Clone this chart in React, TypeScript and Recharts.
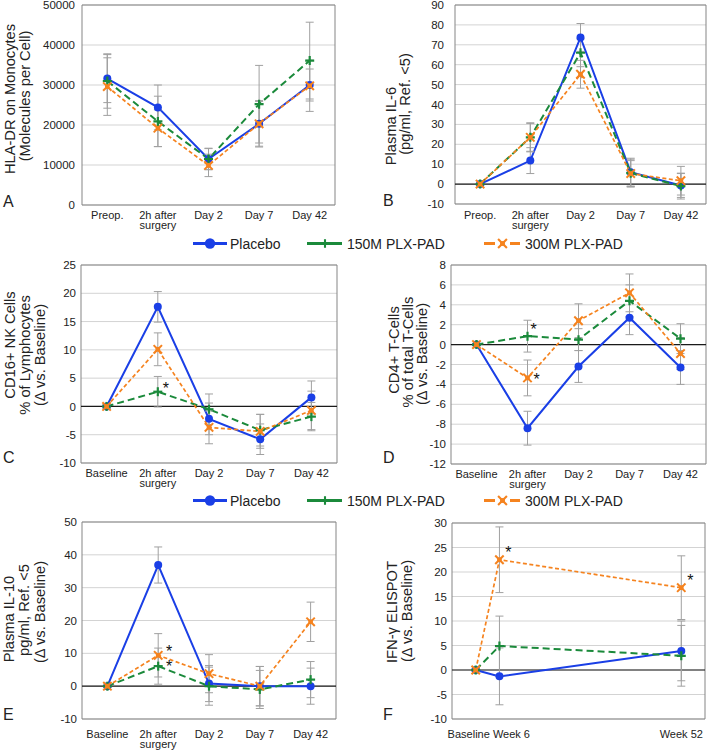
import React from "react";
import { LineChart, Line, XAxis, YAxis, CartesianGrid, ReferenceLine, ErrorBar } from "recharts";

const FONT = '"Liberation Sans", Arial, Helvetica, sans-serif';
const BLUE = "#1a3fe6";
const GREEN = "#1b8a3b";
const ORANGE = "#f5831f";
const ERR = "#a0a0a0";
const INK = "#222";

// x categories
const periopCats = ["Preop.", "2h after\nsurgery", "Day 2", "Day 7", "Day 42"];
const deltaCats = ["Baseline", "2h after\nsurgery", "Day 2", "Day 7", "Day 42"];
const elispotWeeks = [0, 6, 52];
const elispotLabels = ["Baseline", "Week 6", "Week 52"];

// A: HLA-DR
const hlaTicks = [0, 10000, 20000, 30000, 40000, 50000];
const hlaPlacebo = [31600, 24400, 11500, 20300, 30000];
const hla150 = [31000, 20900, 11500, 25200, 36100];
const hla300 = [29600, 19200, 9900, 20300, 29800];
const hlaPlaceboErr = [6000, 5600, 2700, 5600, 4000];
const hla150Err = [6800, 6300, 2600, 9700, 9600];
const hla300Err = [7200, 4600, 2800, 5800, 6400];

// B: IL-6
const il6Ticks = [-10, 0, 10, 20, 30, 40, 50, 60, 70, 80, 90];
const il6Placebo = [0, 11.8, 73.7, 6, -0.7];
const il6_150 = [0, 23.5, 66, 5.5, -1];
const il6_300 = [0, 23.5, 55.2, 5.3, 1.7];
const il6PlaceboErr = [0.5, 6.5, 7, 7, 6];
const il6_150Err = [0.5, 7, 7, 7, 6.5];
const il6_300Err = [0.5, 7.3, 7, 6.5, 7.2];

// C: CD16+ NK
const nkTicks = [-10, -5, 0, 5, 10, 15, 20, 25];
const nkPlacebo = [0, 17.6, -2.2, -5.8, 1.6];
const nk150 = [0, 2.6, -0.5, -4.2, -1.8];
const nk300 = [0, 10.1, -3.7, -4.4, -0.7];
const nkPlaceboErr = [0.3, 2.7, 2.8, 2.7, 2.9];
const nk150Err = [0.3, 2.7, 2.7, 2.8, 2.5];
const nk300Err = [0.3, 2.9, 2.9, 3, 3.4];
const nk150Sig = [false, true, false, false, false];

// D: CD4+
const cd4Ticks = [-12, -10, -8, -6, -4, -2, 0, 2, 4, 6, 8];
const cd4Placebo = [0, -8.4, -2.2, 2.7, -2.3];
const cd4_150 = [0, 0.85, 0.5, 4.4, 0.6];
const cd4_300 = [0, -3.35, 2.4, 5.2, -0.9];
const cd4PlaceboErr = [0.1, 1.7, 1.6, 1.7, 1.7];
const cd4_150Err = [0.1, 1.6, 1.1, 1.6, 1.5];
const cd4_300Err = [0.1, 1.8, 1.7, 1.9, 1.6];
const cd4_150Sig = [false, true, false, false, false];
const cd4_300Sig = [false, true, false, false, false];

// E: IL-10
const il10Ticks = [-10, 0, 10, 20, 30, 40, 50];
const il10Placebo = [0, 36.9, 0.8, 0, 0];
const il10_150 = [0, 6.1, 0, -1, 2];
const il10_300 = [0, 9.4, 3.8, 0, 19.6];
const il10PlaceboErr = [0.3, 5.5, 5.5, 6, 5.5];
const il10_150Err = [0.3, 5.5, 5.8, 5.8, 5.5];
const il10_300Err = [0.3, 6.6, 5.8, 6, 6];
const il10_150Sig = [false, true, false, false, false];
const il10_300Sig = [false, true, false, false, false];

// F: IFN-y ELISPOT
const ifnTicks = [-10, -5, 0, 5, 10, 15, 20, 25, 30];
const ifnPlacebo = [0, -1.3, 3.9];
const ifn150 = [0, 4.9, 2.9];
const ifn300 = [0, 22.5, 16.8];
const ifnPlaceboErr = [0.3, 5.8, 6.1];
const ifn150Err = [0.3, 6.1, 6.2];
const ifn300Err = [0.3, 6.7, 6.5];
const ifn300Sig = [false, true, true];

function Shape({ kind, cx, cy, s = 1 }: any) {
  if (kind === "circle") return <circle cx={cx} cy={cy} r={4 * s} fill={BLUE} />;
  if (kind === "plus")
    return (
      <g stroke={GREEN} strokeWidth={2.2 * s}>
        <line x1={cx - 4.5 * s} y1={cy} x2={cx + 4.5 * s} y2={cy} />
        <line x1={cx} y1={cy - 4.5 * s} x2={cx} y2={cy + 4.5 * s} />
      </g>
    );
  return (
    <g>
      <g stroke={ORANGE} strokeWidth={2 * s}>
        <line x1={cx - 4.2 * s} y1={cy - 4.2 * s} x2={cx + 4.2 * s} y2={cy + 4.2 * s} />
        <line x1={cx - 4.2 * s} y1={cy + 4.2 * s} x2={cx + 4.2 * s} y2={cy - 4.2 * s} />
      </g>
      <rect x={cx - 2.3 * s} y={cy - 2.3 * s} width={4.6 * s} height={4.6 * s} fill={ORANGE} />
    </g>
  );
}

const makeDot = (kind: string, sig?: boolean[], off: number[] = [0, 0]) => (props: any) => {
  const { cx, cy, index } = props;
  if (cx == null || cy == null) return <g key={`e${index}`} />;
  return (
    <g key={`d${index}`}>
      <Shape kind={kind} cx={cx} cy={cy} />
      {sig && sig[index] ? (
        <text x={cx + off[0]} y={cy + off[1] + 9} fontSize={16} fontFamily={FONT} textAnchor="middle" fill="#111">
          *
        </text>
      ) : null}
    </g>
  );
};

function Panel(cfg: any) {
  const { x, placebo, m150, m300, pErr, m150Err, m300Err } = cfg;
  const rows = x.map((c: any, i: number) => ({
    x: c,
    p: placebo[i],
    m150: m150[i],
    m300: m300[i],
    pErr: pErr[i],
    m150Err: m150Err[i],
    m300Err: m300Err[i],
  }));
  const plotW = cfg.width - cfg.mRight - cfg.yWidth;
  const pad = plotW / (2 * x.length);

  const XTick = (props: any) => {
    const { x: tx, y: ty, payload } = props;
    let label = String(payload.value);
    let dx = 0;
    if (cfg.numeric) {
      const i = cfg.numeric.ticks.indexOf(payload.value);
      label = cfg.numeric.labels[i];
      dx = cfg.numeric.dx[i];
    }
    const lines = label.split("\n");
    return (
      <text x={tx + dx} y={ty} textAnchor="middle" fontSize={11} fill={INK} fontFamily={FONT}>
        {lines.map((l: string, i: number) => (
          <tspan key={i} x={tx + dx} dy={i === 0 ? cfg.xBase : 9.5}>
            {l}
          </tspan>
        ))}
      </text>
    );
  };

  const Title = () => (
    <g>
      {cfg.title.map((t: string, i: number) => (
        <text
          key={i}
          x={cfg.titleX[i]}
          y={cfg.titleY[i]}
          transform={`rotate(-90, ${cfg.titleX[i]}, ${cfg.titleY[i]})`}
          textAnchor="middle"
          dominantBaseline="central"
          fontSize={14.7}
          fill={INK}
          fontFamily={FONT}
        >
          {t}
        </text>
      ))}
    </g>
  );

  return (
    <div style={{ position: "absolute", left: cfg.left, top: cfg.top }}>
      <LineChart
        width={cfg.width}
        height={cfg.height}
        data={rows}
        margin={{ top: cfg.mTop, right: cfg.mRight, left: 0, bottom: 0 }}
      >
        <CartesianGrid vertical={false} stroke="#d3d3d3" />
        <CartesianGrid
          stroke="#858585"
          horizontalCoordinatesGenerator={({ offset }: any) => [offset.top, offset.top + offset.height]}
          verticalCoordinatesGenerator={({ offset }: any) => [offset.left, offset.left + offset.width]}
        />
        {cfg.numeric ? (
          <XAxis
            dataKey="x"
            type="number"
            domain={cfg.numeric.domain}
            ticks={cfg.numeric.ticks}
            height={cfg.xHeight}
            tickLine={false}
            axisLine={false}
            tickSize={0}
            tickMargin={0}
            interval={0}
            tick={<XTick />}
          />
        ) : (
          <XAxis
            dataKey="x"
            height={cfg.xHeight}
            padding={{ left: pad, right: pad }}
            tickLine={false}
            axisLine={false}
            tickSize={0}
            tickMargin={0}
            interval={0}
            tick={<XTick />}
          />
        )}
        <YAxis
          width={cfg.yWidth}
          domain={[cfg.ticks[0], cfg.ticks[cfg.ticks.length - 1]]}
          ticks={cfg.ticks}
          interval={0}
          allowDataOverflow
          tickLine={false}
          axisLine={false}
          tickSize={0}
          tickMargin={cfg.yMargin}
          tick={{ fontSize: 11.5, fill: INK, fontFamily: FONT }}
          label={{ content: () => <Title /> }}
        />
        {cfg.zero ? <ReferenceLine y={0} stroke="#1a1a1a" strokeWidth={1.2} /> : null}
        <Line
          dataKey="p"
          stroke={BLUE}
          strokeWidth={2}
          dot={makeDot("circle")}
          activeDot={false}
          isAnimationActive={false}
        >
          <ErrorBar dataKey="pErr" direction="y" width={4} stroke={ERR} strokeWidth={1} />
        </Line>
        <Line
          dataKey="m150"
          stroke={GREEN}
          strokeWidth={2}
          strokeDasharray="7 4"
          dot={makeDot("plus", cfg.sig150, cfg.off150)}
          activeDot={false}
          isAnimationActive={false}
        >
          <ErrorBar dataKey="m150Err" direction="y" width={4} stroke={ERR} strokeWidth={1} />
        </Line>
        <Line
          dataKey="m300"
          stroke={ORANGE}
          strokeWidth={1.7}
          strokeDasharray="4 2.5"
          dot={makeDot("x", cfg.sig300, cfg.off300)}
          activeDot={false}
          isAnimationActive={false}
        >
          <ErrorBar dataKey="m300Err" direction="y" width={4} stroke={ERR} strokeWidth={1} />
        </Line>
      </LineChart>
    </div>
  );
}

function LegendRow({ y }: { y: number }) {
  return (
    <g fontFamily={FONT} fontSize={14} fill={INK}>
      <line x1={193} y1={y} x2={227} y2={y} stroke={BLUE} strokeWidth={3} />
      <Shape kind="circle" cx={210} cy={y} s={1.3} />
      <text x={230} y={y + 5}>Placebo</text>
      <line x1={307} y1={y} x2={342} y2={y} stroke={GREEN} strokeWidth={3} />
      <Shape kind="plus" cx={325} cy={y} s={0.95} />
      <text x={347} y={y + 5}>150M PLX-PAD</text>
      <line x1={484} y1={y} x2={495} y2={y} stroke={ORANGE} strokeWidth={3} />
      <line x1={510} y1={y} x2={520} y2={y} stroke={ORANGE} strokeWidth={3} />
      <Shape kind="x" cx={502.5} cy={y} s={1.05} />
      <text x={525} y={y + 5}>300M PLX-PAD</text>
    </g>
  );
}

export default function App() {
  return (
    <div style={{ position: "absolute", left: 0, top: 0, width: 709, height: 750, background: "#fff", fontFamily: FONT }}>
      <Panel
        left={0} top={0} width={350} height={235} mTop={5} mRight={15} yWidth={82} xHeight={30}
        x={periopCats} ticks={hlaTicks} zero={false} yMargin={7} xBase={14}
        placebo={hlaPlacebo} m150={hla150} m300={hla300}
        pErr={hlaPlaceboErr} m150Err={hla150Err} m300Err={hla300Err}
        title={["HLA-DR on Monocytes", "(Molecules per Cell)"]} titleX={[10, 25]} titleY={[99, 96]}
      />
      <Panel
        left={350} top={0} width={359} height={235} mTop={5} mRight={3} yWidth={105} xHeight={31}
        x={periopCats} ticks={il6Ticks} zero yMargin={11} xBase={15}
        placebo={il6Placebo} m150={il6_150} m300={il6_300}
        pErr={il6PlaceboErr} m150Err={il6_150Err} m300Err={il6_300Err}
        title={["Plasma IL-6", "(pg/ml, Ref. <5)"]} titleX={[41, 55]} titleY={[126, 104]}
      />
      <Panel
        left={0} top={255} width={350} height={240} mTop={10} mRight={13} yWidth={81} xHeight={32}
        x={deltaCats} ticks={nkTicks} zero yMargin={5} xBase={14}
        placebo={nkPlacebo} m150={nk150} m300={nk300}
        pErr={nkPlaceboErr} m150Err={nk150Err} m300Err={nk300Err}
        sig150={nk150Sig} off150={[8, -7]}
        title={["CD16+ NK Cells", "% of Lymphocytes", "(Δ vs. Baseline)"]} titleX={[10, 25, 40]} titleY={[90, 100, 100]}
      />
      <Panel
        left={350} top={255} width={359} height={240} mTop={10} mRight={3} yWidth={101} xHeight={31}
        x={deltaCats} ticks={cd4Ticks} zero yMargin={5} xBase={14}
        placebo={cd4Placebo} m150={cd4_150} m300={cd4_300}
        pErr={cd4PlaceboErr} m150Err={cd4_150Err} m300Err={cd4_300Err}
        sig150={cd4_150Sig} off150={[6, -10]} sig300={cd4_300Sig} off300={[9, -2]}
        title={["CD4+ T-Cells", "% of total T-Cells", "(Δ vs. Baseline)"]} titleX={[44, 58, 72]} titleY={[95, 97, 99]}
      />
      <Panel
        left={0} top={510} width={350} height={240} mTop={12} mRight={14} yWidth={82} xHeight={31}
        x={deltaCats} ticks={il10Ticks} zero yMargin={5} xBase={19}
        placebo={il10Placebo} m150={il10_150} m300={il10_300}
        pErr={il10PlaceboErr} m150Err={il10_150Err} m300Err={il10_300Err}
        sig150={il10_150Sig} off150={[11, -3]} sig300={il10_300Sig} off300={[11, -7]}
        title={["Plasma IL-10", "pg/ml, Ref. <5", "(Δ vs. Baseline)"]} titleX={[9, 24, 40]} titleY={[109, 100, 102]}
      />
      <Panel
        left={350} top={510} width={359} height={240} mTop={13} mRight={4} yWidth={102} xHeight={31}
        x={elispotWeeks} ticks={ifnTicks} zero yMargin={5} xBase={19}
        numeric={{ domain: [-6, 58], ticks: elispotWeeks, labels: elispotLabels, dx: [-7, 12, 0] }}
        placebo={ifnPlacebo} m150={ifn150} m300={ifn300}
        pErr={ifnPlaceboErr} m150Err={ifn150Err} m300Err={ifn300Err}
        sig300={ifn300Sig} off300={[9, -10.5]}
        title={["IFN-γ ELISPOT", "(Δ vs. Baseline)"]} titleX={[41.5, 57]} titleY={[102, 101]}
      />
      <svg width={709} height={750} style={{ position: "absolute", left: 0, top: 0, pointerEvents: "none" }}>
        <LegendRow y={243.5} />
        <LegendRow y={500.5} />
        <g fontFamily={FONT} fontSize={16} fill={INK}>
          <text x={3} y={207}>A</text>
          <text x={383} y={206}>B</text>
          <text x={3} y={463}>C</text>
          <text x={383} y={463}>D</text>
          <text x={3} y={720}>E</text>
          <text x={383} y={720}>F</text>
        </g>
      </svg>
    </div>
  );
}
